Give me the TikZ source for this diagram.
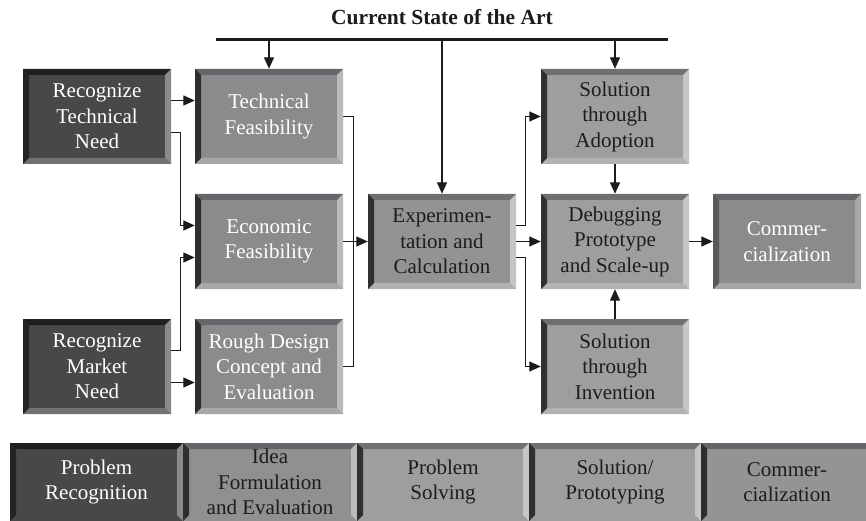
\documentclass[tikz,border=0pt]{standalone}
\usepackage{fontspec}
\setmainfont{Liberation Serif}
\usetikzlibrary{arrows.meta, positioning, calc}

\definecolor{inkdark}{HTML}{1C1C1D}
% dark boxes
\definecolor{darkfill}{HTML}{48484B}
\definecolor{darktop}{HTML}{1F1F20}
\definecolor{darkside}{HTML}{242425}
\definecolor{darkright}{HTML}{8A8A8C}
\definecolor{darkbottom}{HTML}{727274}
% medium boxes
\definecolor{midfill}{HTML}{8B8B8D}
\definecolor{midtop}{HTML}{66666A}
\definecolor{midside}{HTML}{2E2E30}
\definecolor{midright}{HTML}{BABABC}
\definecolor{midbottom}{HTML}{A8A8AA}
% light boxes
\definecolor{lightfill}{HTML}{9E9EA0}
\definecolor{lighttop}{HTML}{707073}
\definecolor{lightside}{HTML}{303032}
\definecolor{lightright}{HTML}{C6C6C8}
\definecolor{lightbottom}{HTML}{B2B2B4}
% commercialization box
\definecolor{comside}{HTML}{5A5A5C}
\definecolor{comright}{HTML}{A6A6A8}

\tikzset{
  bevel top/.store in=\bvtop,
  bevel left/.store in=\bvleft,
  bevel right/.store in=\bvright,
  bevel bottom/.store in=\bvbottom,
  bevel/.style={
    path picture={
      \fill[\bvtop] (path picture bounding box.north west) -- (path picture bounding box.north east)
        -- ([shift={(-6pt,-6pt)}]path picture bounding box.north east)
        -- ([shift={(6pt,-6pt)}]path picture bounding box.north west) -- cycle;
      \fill[\bvbottom] (path picture bounding box.south west) -- (path picture bounding box.south east)
        -- ([shift={(-6pt,6pt)}]path picture bounding box.south east)
        -- ([shift={(6pt,6pt)}]path picture bounding box.south west) -- cycle;
      \fill[\bvleft] (path picture bounding box.north west) -- (path picture bounding box.south west)
        -- ([shift={(6pt,6pt)}]path picture bounding box.south west)
        -- ([shift={(6pt,-6pt)}]path picture bounding box.north west) -- cycle;
      \fill[\bvright] (path picture bounding box.north east) -- (path picture bounding box.south east)
        -- ([shift={(-6pt,6pt)}]path picture bounding box.south east)
        -- ([shift={(-6pt,-6pt)}]path picture bounding box.north east) -- cycle;
    }
  },
  box/.style={bevel, minimum width=148pt, minimum height=95pt, inner sep=0pt, align=center,
    font=\fontsize{21}{25.5}\selectfont},
  darkbox/.style={box, fill=darkfill, text=white, bevel top=darktop, bevel left=darkside,
    bevel right=darkright, bevel bottom=darkbottom},
  midbox/.style={box, fill=midfill, text=white, bevel top=midtop, bevel left=midside,
    bevel right=midright, bevel bottom=midbottom},
  lightbox/.style={box, fill=lightfill, text=inkdark, bevel top=lighttop, bevel left=lightside,
    bevel right=lightright, bevel bottom=lightbottom},
  phase/.style={minimum height=78pt, minimum width=#1, inner sep=0pt},
  arr/.style={line width=1.3pt, draw=inkdark, -{Triangle[length=11.5pt,width=10pt]}},
  link/.style={line width=1.3pt, draw=inkdark},
}

\begin{document}
\begin{tikzpicture}[x=1pt, y=-1pt]
    \useasboundingbox (0,0) rectangle (866,521);

    % Title and the state-of-the-art bar
    \node[font=\fontsize{21.5}{26}\selectfont\bfseries, text=inkdark] (title) at (442,17) {Current State of the Art};
    \coordinate (sotaL) at (216,40);
    \coordinate (sotaR) at (668,40);
    \draw[line width=3pt, draw=inkdark] (sotaL) -- (sotaR);

    % Problem recognition
    \node[darkbox] (techneed) at (97,116.5) {Recognize\\Technical\\Need};
    \node[darkbox] (mktneed) at (97,366.5) {Recognize\\Market\\Need};

    % Idea formulation
    \node[midbox] (techfeas) at (269,116.5) {Technical\\Feasibility};
    \node[midbox] (econfeas) at (269,241.5) {Economic\\Feasibility};
    \node[midbox] (rough) at (269,366.5) {Rough Design\\Concept and\\Evaluation};

    % Problem solving
    \node[lightbox, fill=lightfill!93!black] (exper) at (442,241.5) {Experimen-\\tation and\\Calculation};

    % Solution / prototyping
    \node[lightbox] (adopt) at (615,116.5) {Solution\\through\\Adoption};
    \node[lightbox] (debug) at (615,241.5) {Debugging\\Prototype\\and Scale-up};
    \node[lightbox] (invent) at (615,366.5) {Solution\\through\\Invention};

    % Commercialization
    \node[midbox, bevel left=comside, bevel right=comright, bevel bottom=comright] (comm) at (787,241.5) {Commer-\\cialization};

    % Arrows from the state of the art
    \draw[arr] (techfeas.north |- sotaL) -- (techfeas.north);
    \draw[arr] (exper.north |- sotaL) -- (exper.north);
    \draw[arr] (adopt.north |- sotaL) -- (adopt.north);

    % Needs to feasibility
    \draw[arr] ([yshift=16pt]techneed.east) -- ([yshift=16pt]techfeas.west);
    \draw[arr] ([yshift=-16pt]techneed.east) -- ++(9pt,0) |- ([yshift=16pt]econfeas.west);
    \draw[arr] ([yshift=16pt]mktneed.east) -- ++(9pt,0) |- ([yshift=-16pt]econfeas.west);
    \draw[arr] ([yshift=-16pt]mktneed.east) -- ([yshift=-16pt]rough.west);

    % Ideas collected into experimentation
    \coordinate (merge) at ([xshift=10pt]econfeas.east);
    \draw[link] (techfeas.east) -| (merge);
    \draw[link] (rough.east) -| (merge);
    \draw[arr] (econfeas.east) -- (exper.west);

    % Experimentation to solutions
    \draw[arr] ([yshift=16pt]exper.east) -- ++(9pt,0) |- (adopt.west);
    \draw[arr] (exper.east) -- (debug.west);
    \draw[arr] ([yshift=-16pt]exper.east) -- ++(9pt,0) |- (invent.west);
    \draw[arr] (adopt.south) -- (debug.north);
    \draw[arr] (invent.north) -- (debug.south);
    \draw[arr] (debug.east) -- (comm.west);

    % Phase band along the bottom
    \begin{scope}[every node/.style={align=center, font=\fontsize{21}{24.5}\selectfont}]
      \node[darkbox, phase=173pt, bevel bottom=darkfill] (phRecog) at (96.5,482) {Problem\\Recognition};
      \node[midbox, phase=174pt, text=inkdark, fill=midfill!96!white, bevel bottom=midfill!96!white] (phIdea) at (270,482) {Idea\\Formulation\\and Evaluation};
      \node[lightbox, phase=172pt, bevel bottom=lightfill] (phSolve) at (443,482) {Problem\\Solving};
      \node[lightbox, phase=172pt, bevel bottom=lightfill] (phProto) at (615,482) {Solution/\\Prototyping};
      \node[midbox, phase=172pt, text=inkdark, fill=midfill!92!white, bevel bottom=midfill!92!white] (phComm) at (787,482) {Commer-\\cialization};
    \end{scope}
\end{tikzpicture}
\end{document}
